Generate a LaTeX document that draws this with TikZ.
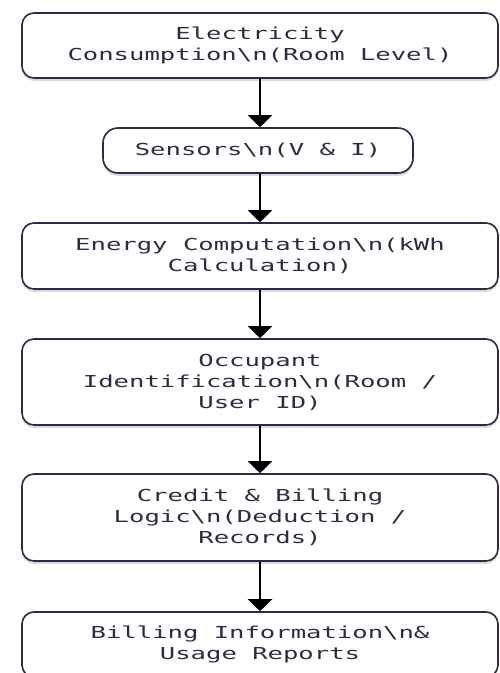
\documentclass[tikz,border=0pt]{standalone}
\usepackage{fontspec}
\newfontfamily\boxfont[FakeStretch=1.55]{DejaVu Sans Mono}
\usetikzlibrary{shadows,arrows.meta}
\definecolor{edge}{RGB}{42,44,66}
\definecolor{txt}{RGB}{45,45,65}
\newcommand{\bs}{\textbackslash{}}
\tikzset{
  x=1pt, y=-1pt,
  flowbox/.style={draw=edge, line width=1.6pt, fill=white, rounded corners=12pt,
    minimum width=476pt, align=center, inner sep=0pt, text=txt,
    font=\boxfont\fontsize{16.5}{21}\selectfont,
    drop shadow={shadow xshift=0pt, shadow yshift=-3pt, fill=black!14, opacity=1}},
  flowarrow/.style={draw=black, line width=2.6pt,
    -{Triangle[width=24pt,length=12pt]}}
}
\begin{document}
\begin{tikzpicture}
\useasboundingbox (0,0) rectangle (499,673);
\fill[white] (0,0) rectangle (499,673);
\node[flowbox, minimum height=65pt] (b1) at (260,45.5) {Electricity\\Consumption\bs n(Room Level)};
\node[flowbox, minimum height=45pt, minimum width=310pt, rounded corners=15pt] (b2) at (258,150.5) {Sensors\bs n(V \& I)};
\node[flowbox, minimum height=66pt] (b3) at (260,256) {Energy Computation\bs n(kWh\\Calculation)};
\node[flowbox, minimum height=86pt] (b4) at (260,382) {Occupant\\Identification\bs n(Room /\\User ID)};
\node[flowbox, minimum height=87pt] (b5) at (260,517.5) {Credit \& Billing\\Logic\bs n(Deduction /\\Records)};
\node[flowbox, minimum height=65pt] (b6) at (260,644.5) {Billing Information\bs n\&\\Usage Reports};
\draw[flowarrow] (b1.south -| 260,0) -- (b2.north -| 260,0);
\draw[flowarrow] (b2.south -| 260,0) -- (b3.north -| 260,0);
\draw[flowarrow] (b3.south) -- (b4.north);
\draw[flowarrow] (b4.south) -- (b5.north);
\draw[flowarrow] (b5.south) -- (b6.north);
\end{tikzpicture}
\end{document}
